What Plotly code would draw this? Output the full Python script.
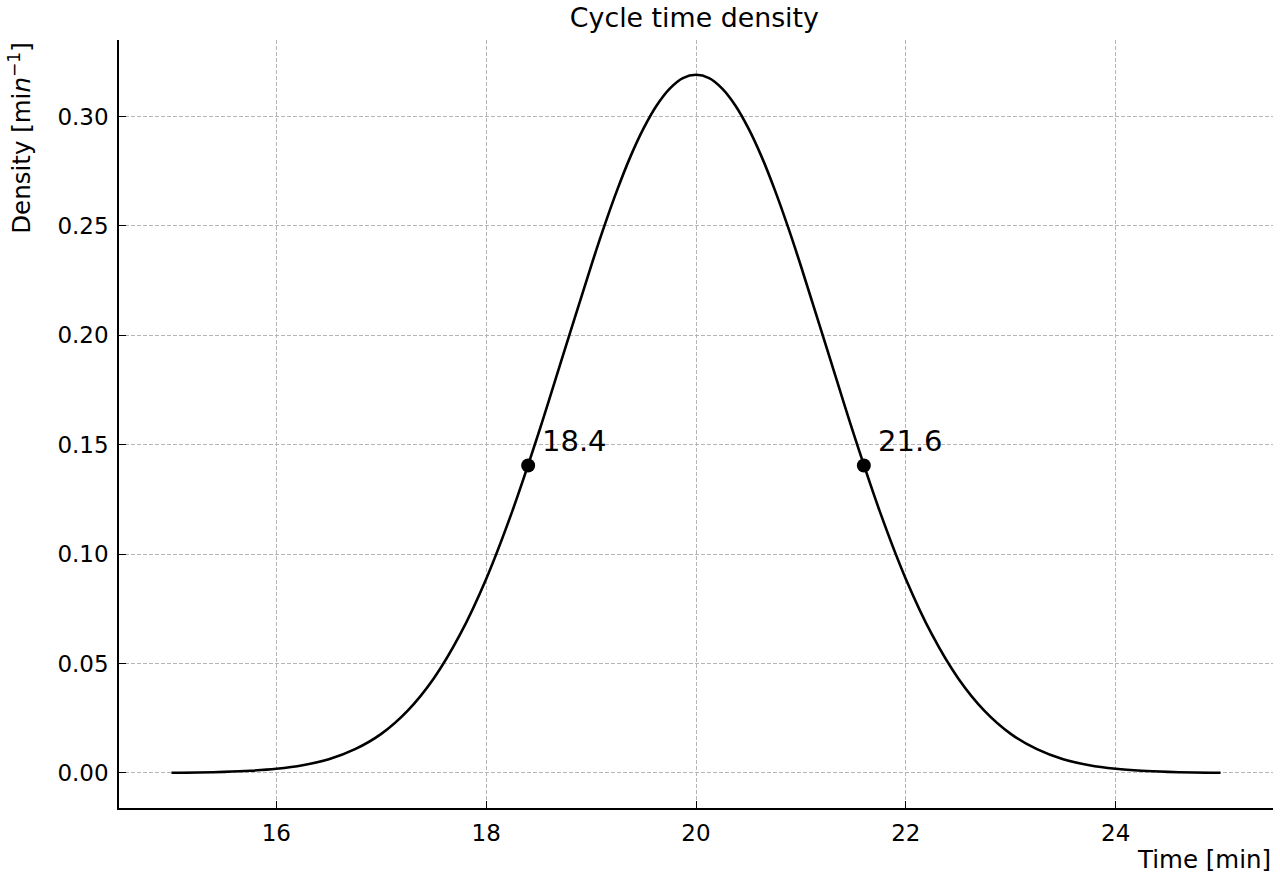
import plotly.graph_objects as go

# Curve samples (Time [min], Density)
time_min = [15.0, 15.25, 15.5, 15.75, 16.0, 16.25, 16.5, 16.75, 17.0, 17.25,
            17.5, 17.75, 18.0, 18.25, 18.5, 18.75, 19.0, 19.125, 19.25, 19.375,
            19.5, 19.625, 19.75, 19.875, 20.0, 20.125, 20.25, 20.375, 20.5, 20.625,
            20.75, 20.875, 21.0, 21.25, 21.5, 21.75, 22.0, 22.25,
            22.5, 22.75, 23.0, 23.25, 23.5, 23.75, 24.0, 24.25, 24.5, 24.75, 25.0]
density = [0.0001, 0.0002, 0.0005, 0.0010, 0.0019, 0.0035, 0.0063, 0.0109, 0.0179, 0.0284,
           0.0432, 0.0632, 0.0887, 0.1198, 0.1554, 0.1936, 0.2317, 0.2498, 0.2666, 0.2817,
           0.2946, 0.3051, 0.3128, 0.3176, 0.3191, 0.3176, 0.3128, 0.3051, 0.2946, 0.2817,
           0.2666, 0.2498, 0.2317, 0.1936, 0.1554, 0.1198, 0.0887, 0.0632,
           0.0432, 0.0284, 0.0179, 0.0109, 0.0063, 0.0035, 0.0019, 0.0010, 0.0005, 0.0002, 0.0001]

# Marked points
point_x = [18.4, 21.6]
point_y = [0.1405, 0.1405]
point_labels = ["18.4", "21.6"]

x_ticks = [16, 18, 20, 22, 24]
y_ticks = [0.00, 0.05, 0.10, 0.15, 0.20, 0.25, 0.30]

FONT = "DejaVu Sans"

fig = go.Figure()
fig.add_trace(go.Scatter(x=time_min, y=density, mode="lines",
                         line=dict(color="black", width=2.6, shape="spline", smoothing=1.0),
                         hoverinfo="skip", showlegend=False))
fig.add_trace(go.Scatter(x=point_x, y=point_y, mode="markers",
                         marker=dict(color="black", size=14),
                         showlegend=False))

for px, py, lab in zip(point_x, point_y, point_labels):
    fig.add_annotation(x=px, y=py, text=lab, showarrow=False,
                       xanchor="left", yanchor="middle", xshift=12, yshift=25,
                       font=dict(family=FONT, size=29, color="black"))

axis_common = dict(
    showline=True, linecolor="black", linewidth=1.6, mirror=False,
    ticks="inside", ticklen=7, tickwidth=1.3, tickcolor="black",
    showgrid=True, gridcolor="#b5b5b5", gridwidth=0.9, griddash="4px,2px",
    zeroline=False, tickfont=dict(family=FONT, size=23, color="black"),
)

fig.update_xaxes(range=[14.5, 25.5], tickvals=x_ticks,
                 ticktext=[str(v) for v in x_ticks], ticklabelstandoff=4, **axis_common)
fig.update_yaxes(range=[-0.016, 0.335], tickvals=y_ticks,
                 ticktext=[f"{v:.2f}" for v in y_ticks], ticklabelstandoff=4, **axis_common)

# Axis titles placed like matplotlib (x at right, y at top)
fig.add_annotation(xref="paper", yref="paper", x=1.0, y=-0.0677,
                   text="Time [min]", showarrow=False, xanchor="right", yanchor="middle",
                   font=dict(family=FONT, size=24.5, color="black"))
fig.add_annotation(xref="paper", yref="paper", x=-0.086, y=1.0,
                   text="Density [mi<i>n</i><sup>−1</sup>]", showarrow=False,
                   textangle=-90, xanchor="center", yanchor="top",
                   font=dict(family=FONT, size=24.5, color="black"))

fig.update_layout(
    width=1280, height=880,
    margin=dict(l=119, r=7, t=40, b=72),
    paper_bgcolor="white", plot_bgcolor="white",
    title=dict(text="Cycle time density", x=0.5425, xanchor="center",
               y=0.98, yanchor="middle",
               font=dict(family=FONT, size=26.8, color="black")),
    showlegend=False,
)

fig.write_html("out.html")
